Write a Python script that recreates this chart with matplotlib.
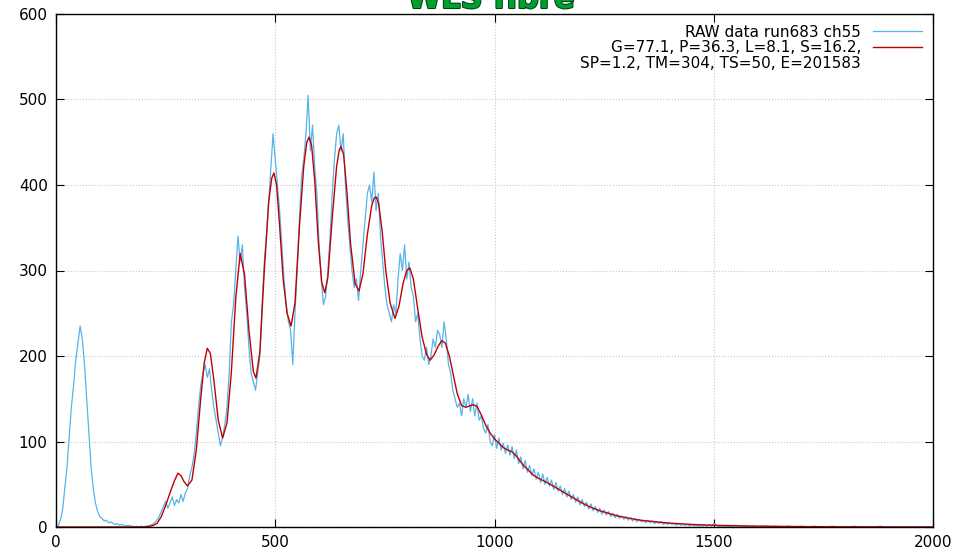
import numpy as np
import matplotlib.pyplot as plt
import matplotlib.patheffects as pe
from matplotlib.lines import Line2D

plt.rcParams['font.family'] = ['DejaVu Sans']

# 原始資料：通道 0~1500 每 5 個一點，之後每 10 個一點
raw_ch = np.concatenate([np.arange(0, 1505, 5), np.arange(1510, 2010, 10)])
raw_cnt = [
    0, 2, 8, 20, 45, 70, 105, 140, 165, 195, 215, 235, 220, 190, 150, 110, 70, 45, 28, 18,
    12, 10, 7, 8, 5, 6, 4, 3, 4, 2, 3, 2, 1, 2, 1, 1, 0, 1, 0, 1,
    0, 1, 1, 2, 3, 5, 8, 12, 18, 24, 30, 22, 28, 35, 25, 32, 28, 38, 30, 40,
    45, 60, 70, 85, 110, 140, 165, 180, 190, 175, 185, 160, 140, 125, 110, 95, 105, 120, 140, 180,
    240, 260, 300, 340, 310, 330, 280, 250, 210, 180, 170, 160, 180, 200, 260, 310, 340, 380, 420, 460,
    430, 400, 370, 330, 290, 260, 240, 230, 190, 250, 300, 360, 410, 430, 460, 505, 440, 470, 420, 390,
    330, 290, 260, 270, 300, 340, 390, 430, 460, 470, 440, 460, 400, 360, 330, 300, 280, 290, 265, 300,
    330, 360, 390, 400, 380, 415, 370, 390, 340, 310, 280, 260, 250, 240, 260, 250, 290, 320, 300, 330,
    290, 310, 280, 270, 240, 250, 220, 200, 195, 210, 190, 200, 220, 210, 230, 225, 210, 240, 220, 190,
    180, 160, 150, 140, 145, 130, 150, 140, 155, 135, 150, 130, 145, 125, 130, 115, 110, 120, 100, 95,
    108, 92, 104, 90, 98, 86, 96, 84, 94, 80, 90, 74, 82, 68, 78, 64, 72, 60, 68, 56,
    64, 52, 62, 50, 58, 48, 55, 44, 52, 42, 48, 38, 45, 35, 42, 32, 38, 29, 35, 26,
    32, 24, 29, 21, 27, 19, 24, 17, 22, 15, 20, 14, 18, 12, 16, 11, 15, 10, 13, 9,
    12, 8, 11, 7, 10, 6, 9, 6, 8, 5, 8, 5, 7, 4, 6, 4, 6, 3, 5, 3,
    5, 3, 4, 2, 4, 2, 3, 2, 3, 1, 3, 1, 2, 1, 2, 1, 2, 1, 3, 1,
    4,
    1, 0, 1, 0, 2, 0, 1, 0, 1, 0, 1, 1, 0, 1, 0, 0, 1, 0, 0, 1,
    0, 0, 1, 0, 0, 0, 1, 0, 0, 0, 0, 1, 0, 0, 0, 0, 0, 1, 0, 0,
    0, 0, 0, 0, 0, 0, 0, 0, 0, 0,
]

# 擬合曲線
fit_ch = [0, 100, 200, 210, 220, 230, 240, 250, 260, 270, 278, 285, 292, 300, 310, 320, 330, 338, 345, 352,
          360, 370, 380, 390, 400, 410, 420, 430, 440, 450, 456, 465, 475, 485, 492, 497, 503, 510, 518, 527,
          536, 545, 555, 565, 572, 577, 583, 590, 598, 606, 613, 620, 630, 640, 646, 650, 656, 663, 672, 682,
          691, 700, 710, 720, 726, 730, 736, 744, 752, 762, 773, 782, 792, 800, 807, 815, 825, 835, 845, 853,
          862, 872, 880, 888, 897, 906, 915, 925, 935, 945, 952, 960, 970, 980, 990, 1000, 1010, 1020, 1030, 1040,
          1050, 1060, 1070, 1080, 1090, 1100, 1120, 1140, 1160, 1180, 1200, 1220, 1240, 1260, 1280, 1300, 1320, 1340, 1360, 1380,
          1400, 1450, 1500, 1550, 1600, 1700, 1800, 1900, 2000]
fit_cnt = [0, 0, 0, 0.5, 1.5, 4, 12, 25, 40, 54, 63, 60, 53, 48, 55, 90, 150, 192, 209, 203,
           172, 125, 104, 122, 182, 268, 320, 295, 230, 182, 174, 205, 300, 380, 408, 414, 400, 352, 290, 250,
           235, 262, 350, 422, 450, 456, 446, 405, 335, 286, 274, 292, 362, 422, 441, 445, 435, 395, 330, 285,
           276, 296, 342, 376, 385, 386, 378, 345, 300, 262, 244, 258, 286, 300, 303, 290, 255, 222, 202, 195,
           201, 212, 218, 215, 200, 178, 156, 142, 140, 142, 143, 141, 131, 119, 110, 103, 98, 93, 90, 88,
           83, 76, 70, 65, 60, 57, 52, 46, 40, 34, 28, 23, 19, 16, 13, 11, 9, 7.5, 6.5, 5.5,
           4.5, 3, 2, 1.5, 1, 0.5, 0.2, 0.1, 0]

raw_label = 'RAW data run683 ch55'
fit_label1 = 'G=77.1, P=36.3, L=8.1, S=16.2,'
fit_label2 = 'SP=1.2, TM=304, TS=50, E=201583'

fig = plt.figure(figsize=(9.68, 5.54), dpi=100)
ax = fig.add_axes([56 / 968, 27 / 554, 877 / 968, 513 / 554])

ax.plot(raw_ch, raw_cnt, color='#56b4e9', lw=0.9)
ax.plot(fit_ch, fit_cnt, color='#c00000', lw=1.0)

ax.set_xlim(0, 2000)
ax.set_ylim(0, 600)
ax.set_xticks([0, 500, 1000, 1500, 2000])
ax.set_yticks([0, 100, 200, 300, 400, 500, 600])
ax.tick_params(direction='in', top=True, right=True, length=6, width=0.8,
               labelsize=11, pad=6)
ax.grid(True, linestyle=':', color='#c8c8c8', lw=0.8)
for s in ax.spines.values():
    s.set_linewidth(1.0)

# 圖例：仿 gnuplot 靠右對齊
handles = [Line2D([], [], color='#56b4e9', lw=0.9),
           Line2D([], [], color='#c00000', lw=1.0),
           Line2D([], [], color='none')]
ax.legend(handles, [raw_label, fit_label1, fit_label2], loc='upper right',
          frameon=False, markerfirst=False, alignment='right', fontsize=11,
          handlelength=3.2, handletextpad=0.8, labelspacing=0.05,
          borderaxespad=0.3)

# 標題在圖框上緣，與原圖一樣被切掉上半
fig.text(0.507, 1 - 8 / 554, 'WLS fibre', ha='center', va='baseline',
         fontsize=22, fontweight='bold', color='#00a030',
         path_effects=[pe.withStroke(linewidth=1.5, foreground='#004010')])

fig.savefig('out.png', dpi=100)
